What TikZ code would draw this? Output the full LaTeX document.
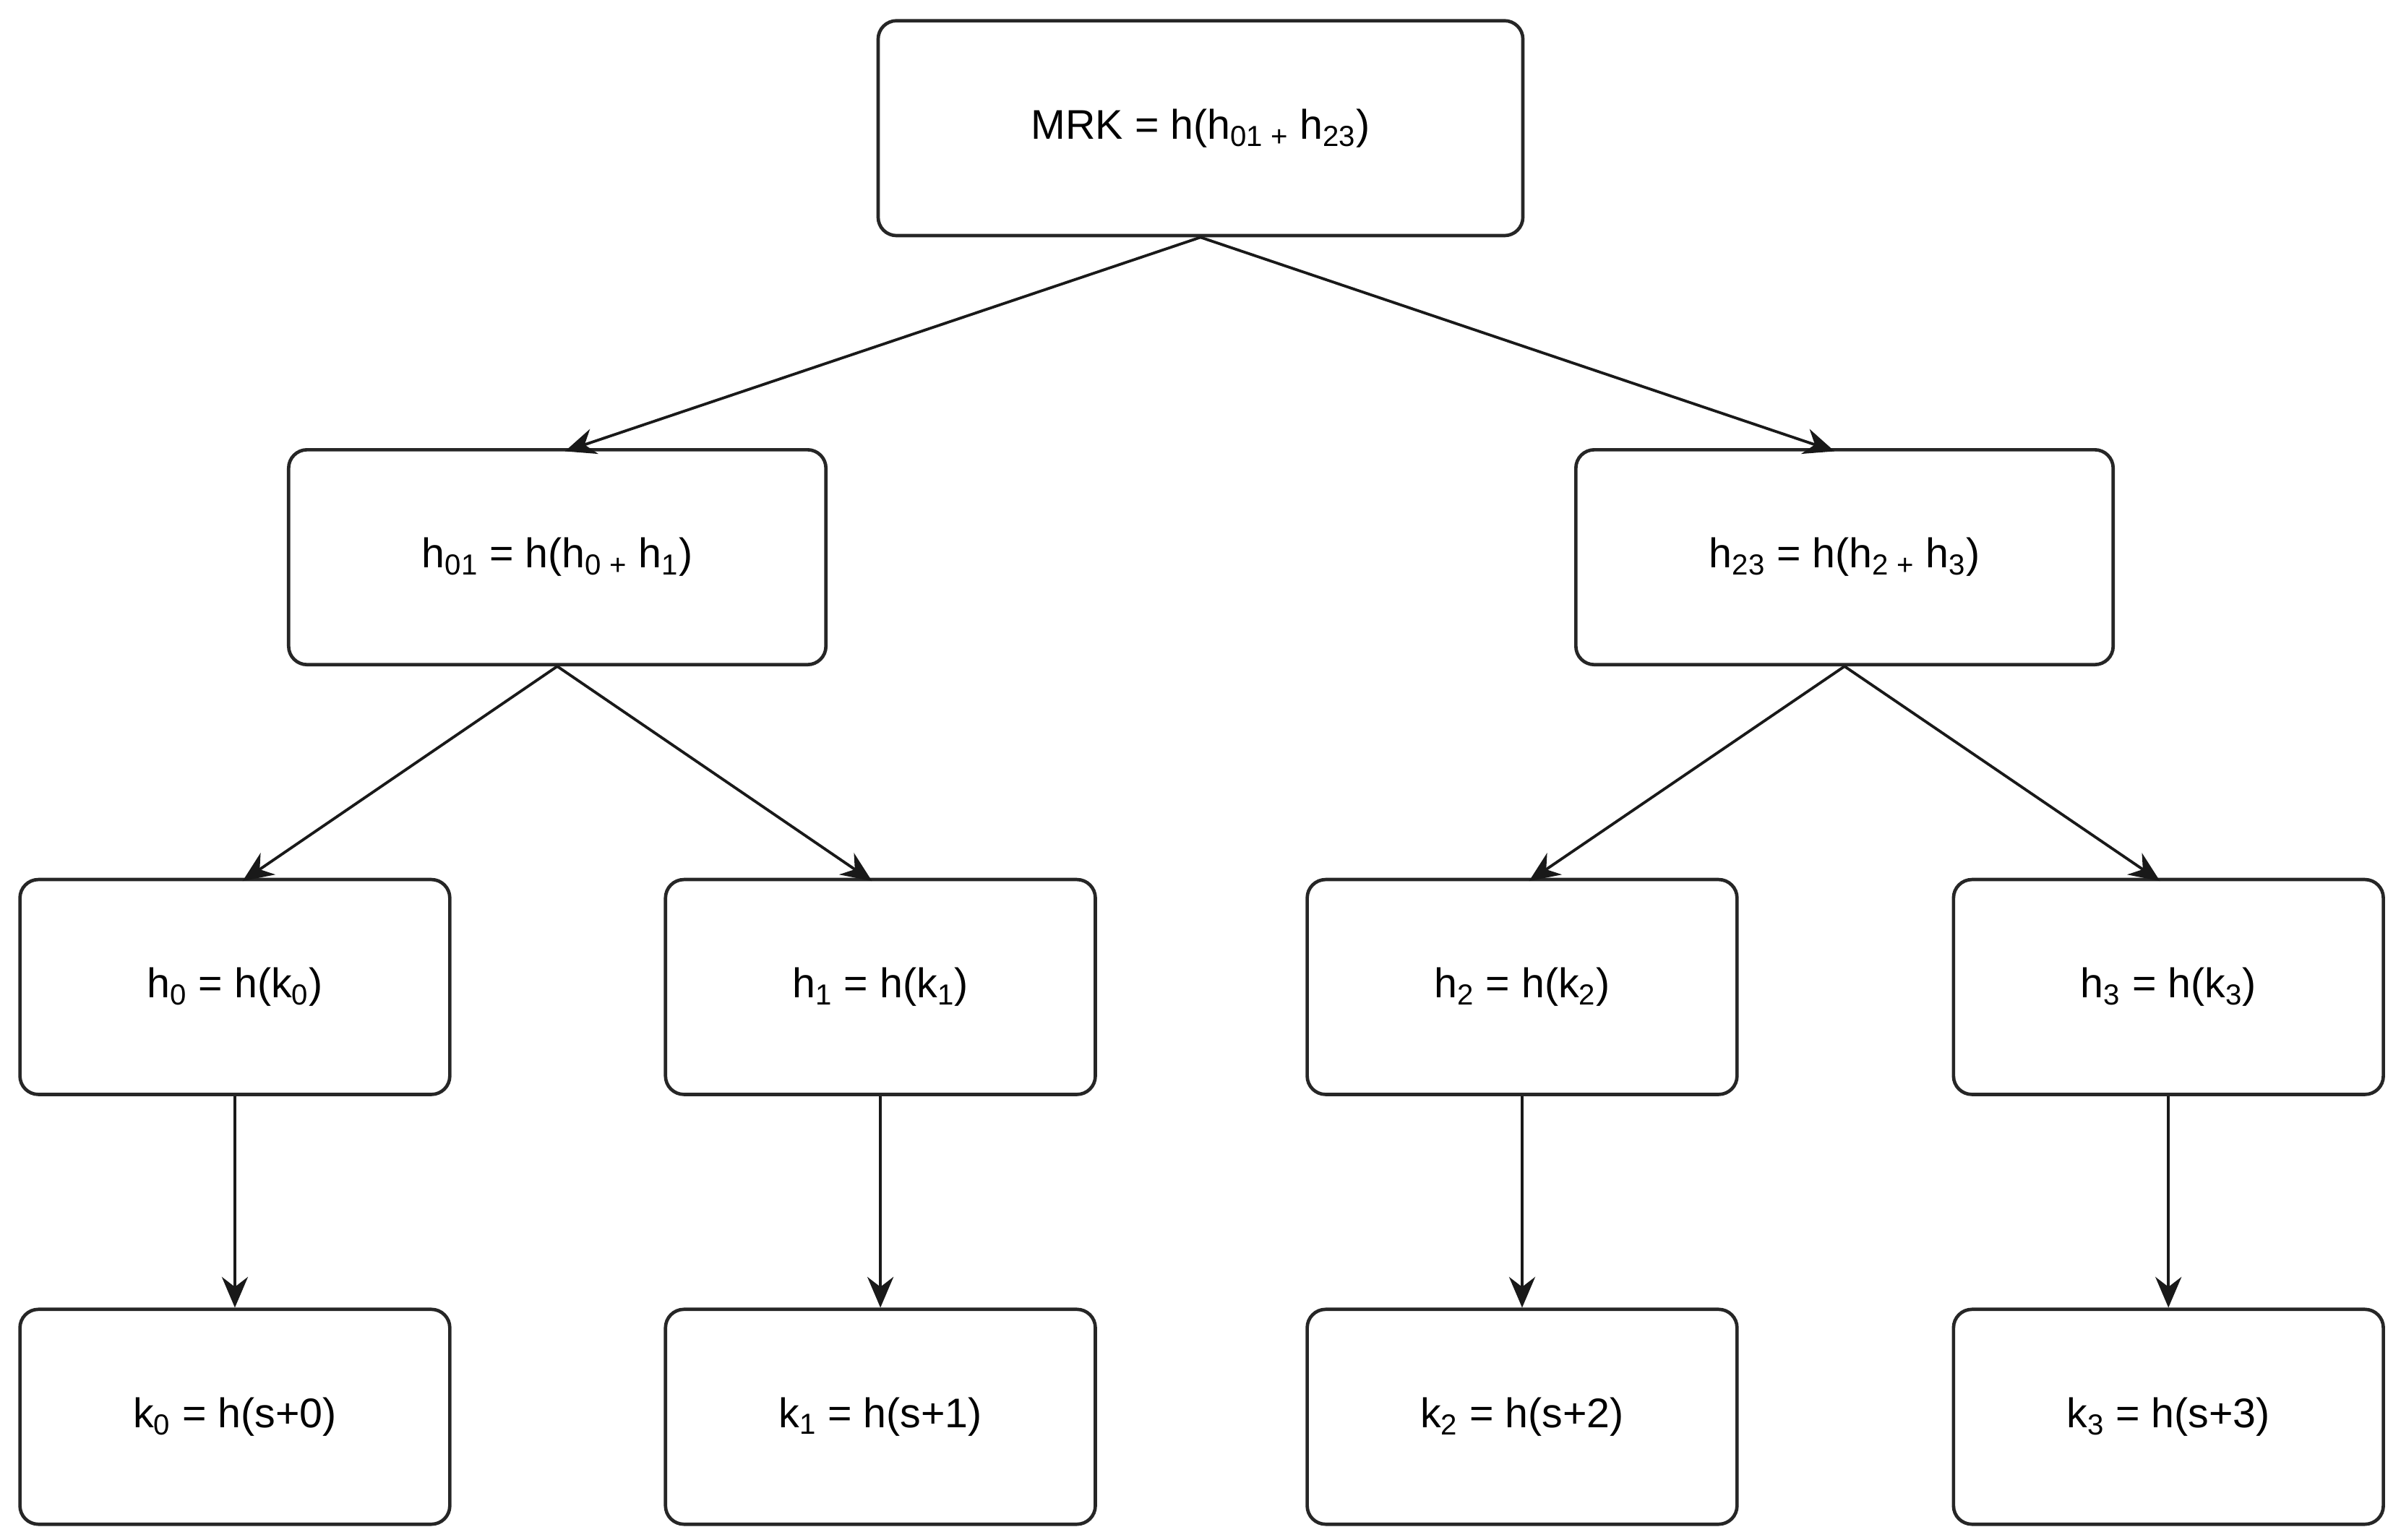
\documentclass[tikz,border=0pt]{standalone}
\usepackage{fontspec}
\setmainfont{Liberation Sans}
\usetikzlibrary{arrows.meta}
\begin{document}
\begin{tikzpicture}[x=1pt,y=-1pt,
  box/.style={draw=black!85,line width=2.2pt,rounded corners=12pt,minimum height=140pt,inner sep=0pt,font=\fontsize{27}{32}\selectfont},
  big/.style={box,minimum width=350pt},
  sm/.style={box,minimum width=280pt},
  arr/.style={line width=1.8pt,draw=black!90,-{Stealth[length=20pt,width=17pt]}}]
\useasboundingbox (0,0) rectangle (1564,1003);
\node[box,minimum width=420pt] (mrk) at (782,83.5) {MRK = h(h\textsubscript{01 +} h\textsubscript{23})};
\node[big] (h01) at (363,363) {h\textsubscript{01} = h(h\textsubscript{0 +} h\textsubscript{1})};
\node[big] (h23) at (1201.5,363) {h\textsubscript{23} = h(h\textsubscript{2 +} h\textsubscript{3})};
\node[sm] (h0) at (153,643) {h\textsubscript{0} = h(k\textsubscript{0})};
\node[sm] (h1) at (573.5,643) {h\textsubscript{1} = h(k\textsubscript{1})};
\node[sm] (h2) at (991.5,643) {h\textsubscript{2} = h(k\textsubscript{2})};
\node[sm] (h3) at (1412.5,643) {h\textsubscript{3} = h(k\textsubscript{3})};
\node[sm] (k0) at (153,923) {k\textsubscript{0} = h(s+0)};
\node[sm] (k1) at (573.5,923) {k\textsubscript{1} = h(s+1)};
\node[sm] (k2) at (991.5,923) {k\textsubscript{2} = h(s+2)};
\node[sm] (k3) at (1412.5,923) {k\textsubscript{3} = h(s+3)};
\coordinate (a1) at (368,294); \coordinate (a2) at (1195,294);
\coordinate (b1) at (158,574); \coordinate (b2) at (568,574);
\coordinate (b3) at (996,574); \coordinate (b4) at (1407,574);
\draw[arr] (mrk.south) -- (a1);
\draw[arr] (mrk.south) -- (a2);
\draw[arr] (h01.south) -- (b1);
\draw[arr] (h01.south) -- (b2);
\draw[arr] (h23.south) -- (b3);
\draw[arr] (h23.south) -- (b4);
\draw[arr] (h0.south) -- (k0.north);
\draw[arr] (h1.south) -- (k1.north);
\draw[arr] (h2.south) -- (k2.north);
\draw[arr] (h3.south) -- (k3.north);
\end{tikzpicture}
\end{document}
